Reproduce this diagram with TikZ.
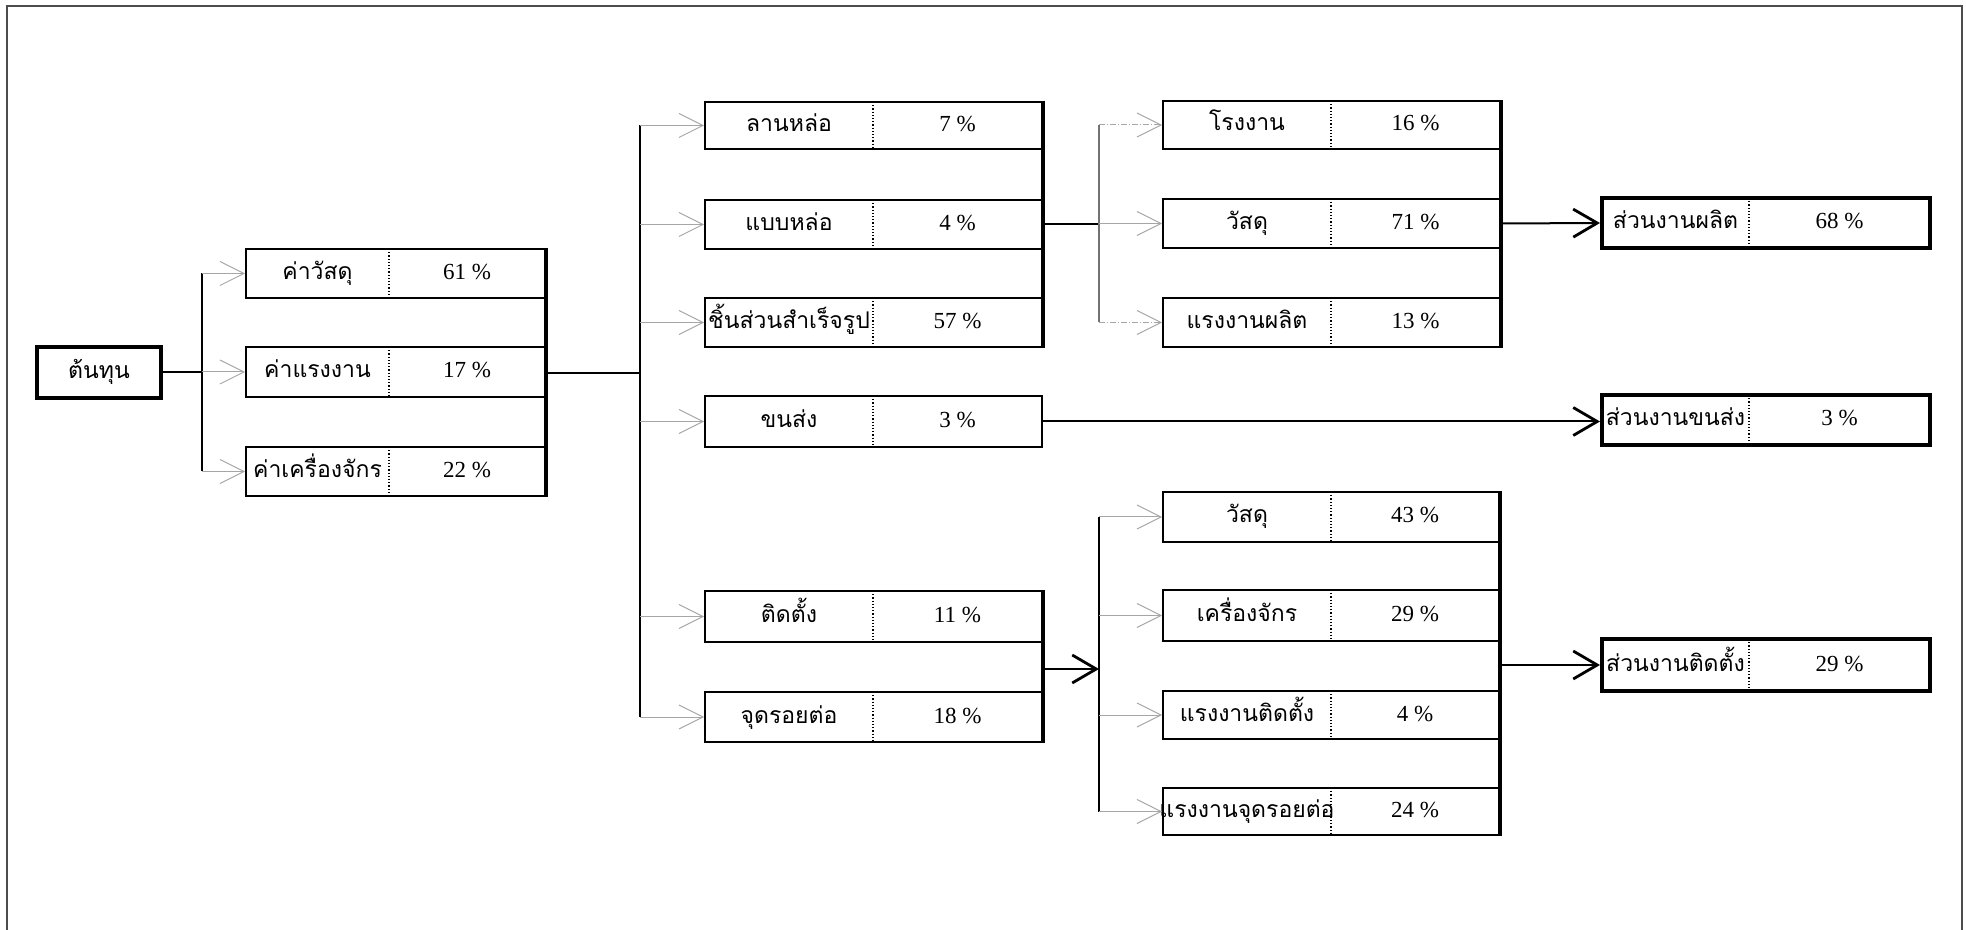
\documentclass[tikz,border=0pt]{standalone}
\usepackage{fontspec}
\setmainfont{Liberation Serif}
\newfontfamily\thaifont[Script=Thai]{Loma}
\usetikzlibrary{arrows.meta,fit,calc}
\tikzset{
  box/.style={draw=black, line width=1pt, inner sep=0pt, fill=white},
  mainbox/.style={draw=black, line width=2pt, inner sep=0pt, fill=white},
  divider/.style={densely dotted, line width=0.6pt},
  thaitxt/.style={font=\thaifont\fontsize{11.5}{14}\selectfont, inner sep=0pt, text height=8pt, text depth=2pt},
  pcttxt/.style={font=\fontsize{11.5}{14}\selectfont, inner sep=0pt, text height=8pt, text depth=2pt},
  feed/.style={draw=black!35, line width=0.5pt, -{Straight Barb[length=12pt,width=12pt]}},
  feeddash/.style={feed, densely dash dot},
  trunk/.style={draw=black, line width=1pt},
  graytrunk/.style={draw=black!55, line width=0.8pt},
  joint/.style={draw=black, line width=1.6pt},
  bigarrow/.style={draw=black, line width=1pt, -{Straight Barb[length=12pt,width=14pt,line width=1.4pt]}},
  frame/.style={draw=black!70, line width=1pt},
}
\newcommand\cbox[9]{%
  \coordinate (#1-nw) at (#2,#3);
  \coordinate (#1-se) at (#4,#5);
  \node[#9, fit=(#1-nw)(#1-se)] (#1) {};
  \draw[divider] (#6,#3) -- (#6,#5);
  \node[thaitxt] (#1-t) at ($(#2,#3)!0.5!(#6,#5)$) {#7};
  \node[pcttxt] (#1-p) at ($(#6,#3)!0.5!(#4,#5)$) {#8};
}
\begin{document}
\begin{tikzpicture}[x=0.5pt,y=-0.5pt]
\useasboundingbox (0,0) rectangle (1966,930);
\draw[frame] (7,930) -- (7,6) -- (1962,6) -- (1962,930);

% root
\coordinate (cost-nw) at (37,347);
\coordinate (cost-se) at (161,398);
\node[mainbox, fit=(cost-nw)(cost-se)] (cost) {};
\node[thaitxt] (cost-t) at (cost) {ต้นทุน};

% level 1
\cbox{mat}{246}{249}{545}{298}{389}{ค่าวัสดุ}{61 \%}{box}
\cbox{lab}{246}{347}{545}{397}{389}{ค่าแรงงาน}{17 \%}{box}
\cbox{mach}{246}{447}{545}{496}{389}{ค่าเครื่องจักร}{22 \%}{box}

% level 2
\cbox{lan}{705}{102}{1042}{149}{873}{ลานหล่อ}{7 \%}{box}
\cbox{bab}{705}{200}{1042}{249}{873}{แบบหล่อ}{4 \%}{box}
\cbox{chin}{705}{298}{1042}{347}{873}{ชิ้นส่วนสำเร็จรูป}{57 \%}{box}
\cbox{khon}{705}{396}{1042}{447}{873}{ขนส่ง}{3 \%}{box}
\cbox{tid}{705}{591}{1042}{642}{873}{ติดตั้ง}{11 \%}{box}
\cbox{rst}{705}{692}{1042}{742}{873}{จุดรอยต่อ}{18 \%}{box}

% level 3
\cbox{rong}{1163}{101}{1500}{149}{1331}{โรงงาน}{16 \%}{box}
\cbox{wsd}{1163}{199}{1500}{248}{1331}{วัสดุ}{71 \%}{box}
\cbox{rng}{1163}{298}{1500}{347}{1331}{แรงงานผลิต}{13 \%}{box}
\cbox{wsdb}{1163}{492}{1499}{542}{1331}{วัสดุ}{43 \%}{box}
\cbox{mc}{1163}{590}{1499}{641}{1331}{เครื่องจักร}{29 \%}{box}
\cbox{li}{1163}{691}{1499}{739}{1331}{แรงงานติดตั้ง}{4 \%}{box}
\cbox{rl}{1163}{788}{1499}{835}{1331}{แรงงานจุดรอยต่อ}{24 \%}{box}

% results
\cbox{prod}{1602}{198}{1930}{248}{1749}{ส่วนงานผลิต}{68 \%}{mainbox}
\cbox{trans}{1602}{395}{1930}{445}{1749}{ส่วนงานขนส่ง}{3 \%}{mainbox}
\cbox{inst}{1602}{639}{1930}{691}{1749}{ส่วนงานติดตั้ง}{29 \%}{mainbox}

% root -> level 1
\coordinate (j0) at (202,373);
\draw[trunk] (cost.east) -- (cost.east -| j0);
\draw[trunk] (mat.west -| j0) -- (mach.west -| j0);
\draw[feed] (mat.west -| j0) -- (mat.west);
\draw[feed] (lab.west -| j0) -- (lab.west);
\draw[feed] (mach.west -| j0) -- (mach.west);

% level 1 -> level 2
\coordinate (j1) at (640,373);
\draw[joint] (mat.north east) -- (mach.south east);
\draw[trunk] (mat.east |- j1) -- (j1);
\draw[trunk] (lan.west -| j1) -- (rst.west -| j1);
\draw[feed] (lan.west -| j1) -- (lan.west);
\draw[feed] (bab.west -| j1) -- (bab.west);
\draw[feed] (chin.west -| j1) -- (chin.west);
\draw[feed] (khon.west -| j1) -- (khon.west);
\draw[feed] (tid.west -| j1) -- (tid.west);
\draw[feed] (rst.west -| j1) -- (rst.west);

% production group
\coordinate (j2) at (1099,224.5);
\draw[joint] (lan.north east) -- (chin.south east);
\draw[trunk] (bab.east) -- (bab.east -| j2);
\draw[graytrunk] (rong.west -| j2) -- (rng.west -| j2);
\draw[feeddash] (rong.west -| j2) -- (rong.west);
\draw[feed] (wsd.west -| j2) -- (wsd.west);
\draw[feeddash] (rng.west -| j2) -- (rng.west);
\draw[joint] (rong.north east) -- (rng.south east);
\draw[bigarrow] (wsd.east) -- (prod.west);

% transport
\draw[bigarrow] (khon.east) -- (khon.east -| trans.west);

% installation group
\coordinate (j3) at (1099,669);
\draw[joint] (tid.north east) -- (rst.south east);
\draw[bigarrow] (tid.east |- j3) -- (j3);
\draw[trunk] (wsdb.west -| j3) -- (rl.west -| j3);
\draw[feed] (wsdb.west -| j3) -- (wsdb.west);
\draw[feed] (mc.west -| j3) -- (mc.west);
\draw[feed] (li.west -| j3) -- (li.west);
\draw[feed] (rl.west -| j3) -- (rl.west);
\draw[joint] (wsdb.north east) -- (rl.south east);
\draw[bigarrow] (wsdb.east |- inst.west) -- (inst.west);
\end{tikzpicture}
\end{document}
